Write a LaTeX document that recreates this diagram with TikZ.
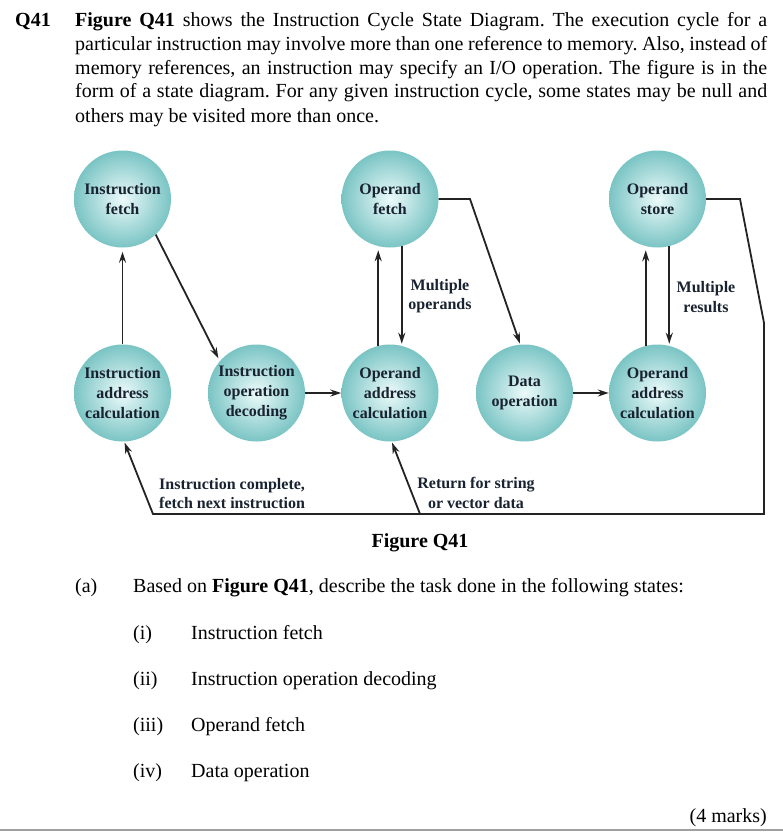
\documentclass[tikz,border=0pt]{standalone}
\usepackage{fontspec}
\setmainfont{Liberation Serif}
\usetikzlibrary{arrows.meta}
\definecolor{spin}{RGB}{236,250,250}
\definecolor{spmid}{RGB}{118,194,194}
\definecolor{spout}{RGB}{38,132,138}
\definecolor{txtc}{RGB}{24,34,48}
\definecolor{linec}{RGB}{35,35,35}
\definecolor{rulec}{RGB}{160,160,160}
\pgfdeclareradialshading{sphere}{\pgfpoint{0bp}{0bp}}{color(0bp)=(spin); color(26bp)=(spmid); color(50bp)=(spout)}
\tikzset{
  state/.style={circle, minimum size=97pt, inner sep=0pt, shade, shading=sphere, align=center,
    font=\bfseries\fontsize{16}{20}\selectfont, text=txtc},
  arr/.style={draw=linec, line width=1.8pt, -{Stealth[length=11pt,width=7pt]}},
  lbl/.style={inner sep=0pt, font=\bfseries\fontsize{16}{19.5}\selectfont, text=txtc},
  txt/.style={anchor=base west, inner sep=0pt, font=\fontsize{20}{23.75}\selectfont},
}
\frenchspacing
\begin{document}
\begin{tikzpicture}[x=1pt,y=-1pt]
\useasboundingbox (0,0) rectangle (783,832);
% question text
\node[txt] (q) at (15,27) {\textbf{Q41}};
\node[txt] (l1) at (75,27) {\makebox[692pt][s]{\textbf{Figure Q41} shows the Instruction Cycle State Diagram. The execution cycle for a}};
\node[txt] (l2) at (75,51) {\makebox[692pt][s]{particular instruction may involve more than one reference to memory. Also, instead of}};
\node[txt] (l3) at (75,74.5) {\makebox[692pt][s]{memory references, an instruction may specify an I/O operation. The figure is in the}};
\node[txt] (l4) at (75,98) {\makebox[692pt][s]{form of a state diagram. For any given instruction cycle, some states may be null and}};
\node[txt] (l5) at (75,122) {others may be visited more than once.};
% states
\node[state] (if) at (122.5,199) {Instruction\\fetch};
\node[state] (of) at (390,199) {Operand\\fetch};
\node[state] (os) at (657.5,199) {Operand\\store};
\node[state] (iac) at (122.5,393) {Instruction\\address\\calculation};
\node[state] (iod) at (256.5,393) {Instruction\\operation\\decoding};
\node[state] (oac) at (390,393) {Operand\\address\\calculation};
\node[state] (do) at (524.5,393) {Data\\operation};
\node[state] (oac2) at (657.5,393) {Operand\\address\\calculation};
% bend points
\coordinate (k1) at (470,199);
\coordinate (k2) at (740,199);
\coordinate (k3) at (764,323);
\coordinate (k4) at (764,514);
\coordinate (k5) at (153,514);
\coordinate (k6) at (420,514);
% connectors
\draw[arr, shorten >=4pt] (iac.north) -- (if.south);
\draw[arr, shorten >=3pt] (if.-47) -- (iod.139);
\draw[arr, shorten >=4pt] (oac.104) -- (of.256);
\draw[arr, shorten >=2pt] (of.284) -- (oac.76);
\draw[arr, shorten >=4pt] (oac2.104) -- (os.256);
\draw[arr, shorten >=2pt] (os.284) -- (oac2.76);
\draw[arr, shorten >=1pt] (of.east) -- (k1) -- (do.95);
\draw[arr] (iod.east) -- (oac.west);
\draw[arr] (do.east) -- (oac2.west);
\draw[arr, shorten >=1pt] (os.east) -- (k2) -- (k3) -- (k4) -- (k5) -- (iac.272);
\draw[arr, shorten >=1pt] (k6) -- (oac.272);
% labels
\node[lbl, align=center] (mo) at (440,296) {Multiple\\operands};
\node[lbl, align=center] (mr) at (706,297) {Multiple\\results};
\node[lbl, align=left, anchor=west] (ic) at (159,493.5) {Instruction complete,\\fetch next instruction};
\node[lbl, align=center] (rs) at (476,493) {Return for string\\or vector data};
% caption and questions
\node[inner sep=0pt, anchor=base, font=\bfseries\fontsize{20}{24}\selectfont] (cap) at (420,547) {Figure Q41};
\node[txt] (a) at (75,592) {(a)};
\node[txt] (at) at (133,592) {Based on \textbf{Figure Q41}, describe the task done in the following states:};
\node[txt] (i1) at (133,639) {(i)};
\node[txt] (t1) at (191,639) {Instruction fetch};
\node[txt] (i2) at (133,685) {(ii)};
\node[txt] (t2) at (191,685) {Instruction operation decoding};
\node[txt] (i3) at (133,731) {(iii)};
\node[txt] (t3) at (191,731) {Operand fetch};
\node[txt] (i4) at (133,777) {(iv)};
\node[txt] (t4) at (191,777) {Data operation};
\node[txt, anchor=base east] (mk) at (767,822) {(4 marks)};
\coordinate (r1) at (0,830);
\coordinate (r2) at (783,830);
\draw[rulec, line width=2pt] (r1) -- (r2);
\end{tikzpicture}
\end{document}
